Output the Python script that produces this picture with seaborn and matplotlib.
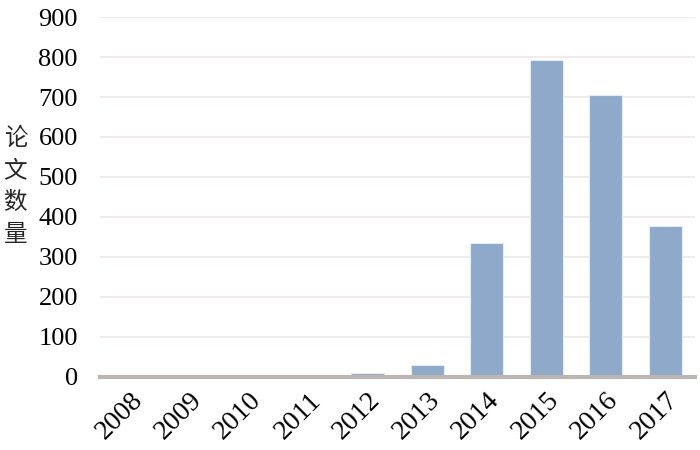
import matplotlib
matplotlib.use("Agg")
import matplotlib.pyplot as plt
import seaborn as sns
import pandas as pd

years = ["2008", "2009", "2010", "2011", "2012", "2013", "2014", "2015", "2016", "2017"]
counts = [0, 0, 0, 0, 8, 30, 335, 792, 706, 378]
y_ticks = [0, 100, 200, 300, 400, 500, 600, 700, 800, 900]

sns.set_theme(style="white")
plt.rcParams["font.family"] = ["Liberation Serif", "Noto Sans CJK SC", "DejaVu Sans"]

df = pd.DataFrame({"year": years, "count": counts})

fig, ax = plt.subplots(figsize=(7, 4.5), dpi=100)
fig.subplots_adjust(left=0.143, right=0.993, top=0.962, bottom=0.163)

sns.barplot(data=df, x="year", y="count", color="#8EA9C9", saturation=1,
            width=0.55, edgecolor="#E4ECF5", linewidth=0.8, ax=ax, zorder=3)

ax.set_ylim(0, 900)
ax.set_xlim(-0.5, len(years) - 0.5)
ax.set_yticks(y_ticks)
ax.yaxis.grid(True, color="#EEE6E6", linewidth=1.2, zorder=0)
ax.set_axisbelow(True)
for s in ["top", "right", "left"]:
    ax.spines[s].set_visible(False)
ax.spines["bottom"].set_color("#BDB5B2")
ax.spines["bottom"].set_linewidth(3)
ax.spines["bottom"].set_zorder(4)

ax.tick_params(axis="y", length=0, labelsize=19, colors="black", pad=16)
ax.tick_params(axis="x", length=0, labelsize=20, colors="black", pad=8)
plt.setp(ax.get_xticklabels(), rotation=45, ha="right", rotation_mode="anchor")
ax.set_xlabel("")
ax.set_ylabel("")

fig.text(0.022, 0.585, "论\n文\n数\n量", fontsize=17, va="center", ha="center",
         family=["Noto Sans CJK SC", "DejaVu Sans"], linespacing=1.5)

fig.savefig("out.png", dpi=100)
